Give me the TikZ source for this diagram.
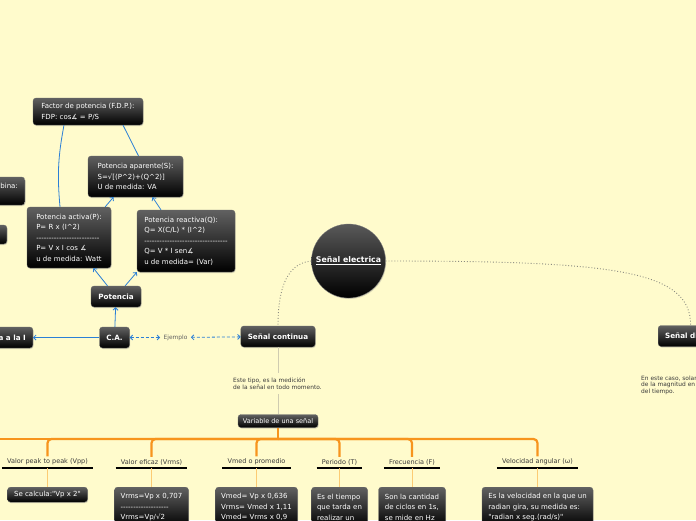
\documentclass[tikz,border=0pt]{standalone}
\usepackage{fontspec}
\setmainfont{DejaVu Sans}[Ligatures=TeXOff]
\usepackage{tikz}
\usetikzlibrary{positioning,arrows.meta,shadows,backgrounds,calc}
\definecolor{fondJaune}{HTML}{FFFBCC}
\definecolor{bleuLien}{HTML}{2B7FD6}
\definecolor{grisTexte}{HTML}{3A3A3A}
\definecolor{grisPoint}{HTML}{8A8A80}
\definecolor{grisFil}{HTML}{CFCBB0}
\definecolor{orangeTronc}{HTML}{F7941D}
\definecolor{orangeClair}{HTML}{FCCB73}
\newcommand\chap{\textasciicircum}
\tikzset{
  carte/.style={
    rectangle, rounded corners=3pt, draw=black!60, line width=0.3pt,
    top color=black!62, bottom color=black, text=white,
    drop shadow={shadow xshift=0.7pt, shadow yshift=-1pt, opacity=0.3},
    inner xsep=5pt, inner ysep=3pt, align=left,
    font=\fontsize{7}{10.5}\selectfont},
  carteGras/.style={carte, align=center, inner xsep=7pt, minimum height=21pt,
    font=\fontsize{7.2}{9}\selectfont\bfseries},
  carteVariable/.style={carte, align=center, inner xsep=4pt, inner ysep=1pt,
    minimum height=13pt, font=\fontsize{6.5}{7}\selectfont},
  centre/.style={circle, minimum size=74pt, inner sep=0pt, draw=black!50,
    line width=0.3pt, top color=black!65, bottom color=black, text=white,
    drop shadow={shadow xshift=0.7pt, shadow yshift=-1pt, opacity=0.3},
    font=\fontsize{7.8}{9}\selectfont\bfseries},
  rama/.style={font=\fontsize{6.5}{7}\selectfont, text=grisTexte,
    inner xsep=5pt, inner ysep=2.5pt, anchor=south},
  barre/.style={draw=black, line width=2.2pt},
  fleche/.style={-{Straight Barb[length=2.5pt,width=5pt]}, draw=bleuLien, line width=0.8pt},
  flecheDouble/.style={{Straight Barb[length=2.5pt,width=5pt]}-{Straight Barb[length=2.5pt,width=5pt]},
    draw=bleuLien, line width=0.8pt, dash pattern=on 3pt off 2pt},
  lien/.style={draw=bleuLien, line width=0.8pt},
  pointille/.style={draw=grisPoint, line width=0.9pt, dotted},
  tronc/.style={draw=orangeTronc, line width=2.2pt, rounded corners=4pt},
  filClair/.style={draw=orangeClair, line width=1pt},
  filGris/.style={draw=grisFil, line width=0.8pt},
  note/.style={font=\fontsize{5.9}{7}\selectfont, text=grisTexte, align=left}
}

\begin{document}
\begin{tikzpicture}[x=1pt, y=-1pt]

  \useasboundingbox (0,0) rectangle (696,520);
  \begin{scope}[on background layer]
    \fill[fondJaune] (0,0) rectangle (696,520);
  \end{scope}

  % --- Bloc de la puissance
  \node[carte, minimum width=110pt, minimum height=27pt] (fdp) at (88,111.5)
        {Factor de potencia (F.D.P.):\\FDP: cos∡ = P/S};
  \node[carte, minimum width=95pt, minimum height=41pt] (aparente) at (135.5,176.5)
        {Potencia aparente(S):\\S=√[(P\chap2)+(Q\chap2)]\\U de medida: VA};
  \node[carte, minimum width=84pt, minimum height=61pt] (activa) at (69,237.5)
        {Potencia activa(P):\\P= R x (I\chap2)\\-------------------------\\P= V x I cos ∡\\u de medida: Watt};
  \node[carte, minimum width=98pt, minimum height=62pt] (reactiva) at (186,241)
        {Potencia reactiva(Q):\\Q= X(C/L) * (I\chap2)\\---------------------------------\\Q= V * I sen∡\\u de medida= (Var)};
  \node[carteGras, minimum width=50pt] (potencia) at (116,296.5) {Potencia};
  \node[carteGras, minimum width=30pt, inner xsep=4pt] (ca) at (114.5,337.5) {C.A.};

  % --- Branches coupees a gauche
  \node[carteGras, anchor=east] (izq) at (33,337.5) {a a la I};
  \node[carte, anchor=east, minimum height=28pt, inner xsep=7pt] (bobina) at (25,191) {bina:\\\phantom{x}};
  \node[carte, anchor=east, minimum width=20pt, minimum height=19pt] (vide) at (7,234.5) {};

  % --- Idee centrale et ses deux branches
  \node[centre] (electrica) at (348.5,261) {\underline{Señal electrica}};
  \node[carteGras, minimum width=74pt] (continua) at (278,336.5) {Señal continua};
  \node[carteGras, anchor=west] (digital) at (658,336) {Señal digital};
  \node[carteVariable, minimum width=80pt] (variable) at (278,421) {Variable de una señal};
  \node[note, text=grisTexte!80] (ejemplo) at (175.5,337.5) {Ejemplo};

  % --- Variables d'une signal
  \node[rama] (vpp)        at (47.5,468)  {Valor peak to peak (Vpp)};
  \node[rama] (vrms)       at (151.5,468) {Valor eficaz (Vrms)};
  \node[rama] (vmed)       at (256.5,468) {Vmed o promedio};
  \node[rama] (periodo)    at (339.5,468) {Periodo (T)};
  \node[rama] (frecuencia) at (412,468)   {Frecuencia (F)};
  \node[rama] (velocidad)  at (537.5,468) {Velocidad angular (ω)};

  \node[carte, anchor=north, minimum width=80pt, minimum height=15pt, inner ysep=1pt] (vppB) at (47.5,487)
        {Se calcula:"Vp x 2"};
  \node[carte, anchor=north, minimum width=74pt, minimum height=40pt] (vrmsB) at (151.5,487)
        {Vrms=Vp x 0,707\\-------------------\\Vrms=Vp/√2};
  \node[carte, anchor=north, minimum width=82pt, minimum height=40pt] (vmedB) at (256.5,487)
        {Vmed= Vp x 0,636\\Vrms= Vmed x 1,11\\Vmed= Vrms x 0,9};
  \node[carte, anchor=north, minimum width=56pt, minimum height=40pt] (periodoB) at (339.5,487)
        {Es el tiempo\\que tarda en\\realizar un};
  \node[carte, anchor=north, minimum width=67pt, minimum height=40pt] (frecuenciaB) at (412,487)
        {Son la cantidad\\de ciclos en 1s,\\se mide en Hz};
  \node[carte, anchor=north, minimum width=111pt, minimum height=40pt] (velocidadB) at (537.5,487)
        {Es la velocidad en la que un\\radian gira, su medida es:\\"radian x seg.(rad/s)"};

  % --- Liens bleus
  \draw[fleche] (potencia) -- (activa);
  \draw[fleche] (potencia) -- (reactiva.south west);
  \draw[fleche] ([xshift=-6pt]activa.north east) -- ([xshift=-22pt]aparente.south);
  \draw[fleche] ([xshift=-25pt]reactiva.north) -- ([xshift=17pt]aparente.south);
  \draw[lien] ([xshift=-24pt]fdp.south) to[bend right=8] ([xshift=-9pt]activa.north);
  \draw[lien] ([xshift=35pt]fdp.south) -- ([xshift=3pt]aparente.north);
  \draw[fleche] (ca) -- (potencia);
  \draw[fleche] (ca) -- (izq);
  \draw[flecheDouble] (ca) -- (ejemplo);
  \draw[flecheDouble] (ejemplo) -- (continua);

  % --- Liens pointilles de l'idee centrale
  \draw[pointille] (electrica.west) to[out=185, in=90] (continua.north);
  \draw[pointille] (electrica.east) .. controls +(230,0) and +(0,-55) .. (digital.north);

  % --- Notes
  \draw[filGris] (continua) -- (variable);
  \node[note, fill=fondJaune, anchor=west, inner xsep=1pt, inner ysep=5pt] (noteContinua) at (232,383.5)
        {Este tipo, es la medición\\de la señal en todo momento.};
  \node[note, anchor=west, inner xsep=1pt, font=\fontsize{5.9}{6.4}\selectfont] (noteDigital) at (640,385)
        {En este caso, solamente se toman\\de la magnitud en cada instante\\del tiempo.};

  % --- Arbre orange
  \coordinate (tronc) at (278,439);
  \coordinate (bordG) at (-10,439);
  \draw[tronc, line width=2.8pt] (variable) -- (tronc);
  \draw[tronc] (tronc) -- (bordG);
  \foreach \r in {vpp,vrms,vmed,periodo,frecuencia,velocidad} {
    \draw[tronc] (tronc) -| (\r.north);
    \draw[barre] (\r.south west) -- (\r.south east);
    \draw[filClair] (\r.south) -- (\r B.north);
  }

\end{tikzpicture}
\end{document}
